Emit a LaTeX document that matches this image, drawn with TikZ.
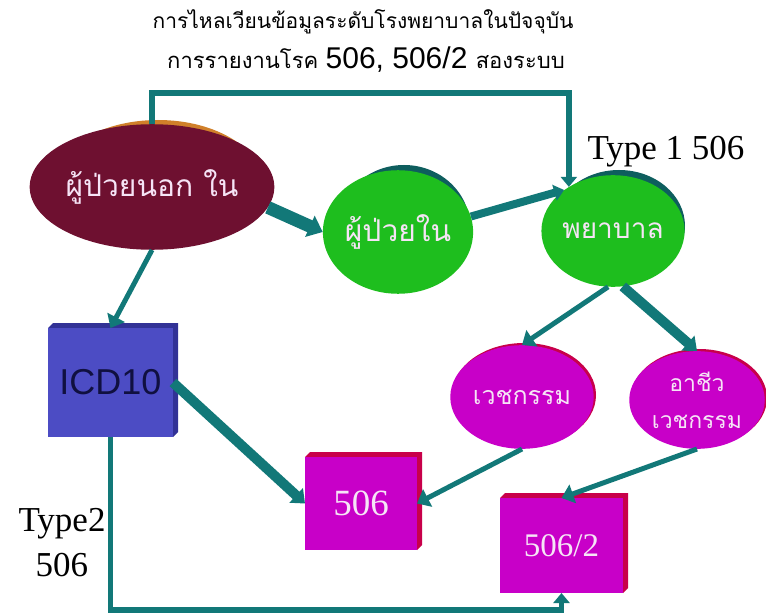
\documentclass[tikz,border=0pt]{standalone}
\usepackage{fontspec}
\setmainfont{Liberation Serif}
\newfontfamily\thai[Script=Thai]{Loma}
\newfontfamily\arial{Liberation Sans}
\usetikzlibrary{shapes.geometric,arrows.meta}
\definecolor{flowc}{RGB}{18,120,120}
\definecolor{maroonf}{RGB}{110,16,48}
\definecolor{orangesh}{RGB}{208,128,42}
\definecolor{greenf}{RGB}{30,190,30}
\definecolor{greensh}{RGB}{14,94,94}
\definecolor{magf}{RGB}{200,0,200}
\definecolor{magsh}{RGB}{200,0,74}
\definecolor{bluef}{RGB}{76,76,196}
\definecolor{bluesh}{RGB}{50,50,150}
\definecolor{textpink}{RGB}{246,228,246}
\begin{document}
\begin{tikzpicture}[x=1bp,y=-1bp,
  ell/.style={ellipse, inner sep=0pt},
  thaitxt/.style={font=\thai\fontsize{#1}{#1}\selectfont, text=textpink},
  boxnode/.style={rectangle, inner sep=0pt},
  flow/.style={draw=flowc, line width=#1},
  tip/.style={-{Triangle[length=#1, width=1.6*#1]}}]
\useasboundingbox (0,0) rectangle (766,614);
% title
\node (t1) at (363,22) {\thai\fontsize{21bp}{21bp}\selectfont การไหลเวียนข้อมูลระดับโรงพยาบาลในปัจจุบัน};
\node (t2) at (366,60) {\thai\fontsize{22bp}{22bp}\selectfont การรายงานโรค \arial\fontsize{30bp}{30bp}\selectfont 506, 506/2 \thai\fontsize{22bp}{22bp}\selectfont สองระบบ};
% shadows
\fill[orangesh] (158,183) ellipse [x radius=104, y radius=63];
\fill[greensh] (404,227) ellipse [x radius=66, y radius=62];
\fill[greensh] (619,226) ellipse [x radius=66, y radius=56];
\fill[magsh] (524,395) ellipse [x radius=72, y radius=52];
\fill[magsh] (699,398) ellipse [x radius=68, y radius=49];
% ellipses
\node[ell, fill=maroonf, minimum width=208, minimum height=126, thaitxt=30bp] (out) at (152,187) {ผู้ป่วยนอก ใน};
\node[ell, fill=greenf, minimum width=132, minimum height=124, thaitxt=30bp] (inp) at (398,232) {ผู้ป่วยใน};
\node[ell, fill=greenf, minimum width=132, minimum height=112, thaitxt=28bp] (nurse) at (613,231) {พยาบาล};
\node[ell, fill=magf, minimum width=144, minimum height=104, thaitxt=25bp] (med) at (522,397) {เวชกรรม};
\node[ell, fill=magf, minimum width=136, minimum height=98, thaitxt=23bp, align=center] (occ) at (697,400) {อาชีว\\[14bp]เวชกรรม};
% boxes with depth
\fill[bluesh] (48,328) -- (53,323) -- (178,323) -- (178,432) -- (173,437) -- (173,328) -- cycle;
\node[boxnode, fill=bluef, minimum width=125, minimum height=109, font=\arial\fontsize{36bp}{36bp}\selectfont, text={rgb,255:red,16;green,16;blue,64}] (icd) at (110.5,382.5) {ICD10};
\fill[magsh] (305,457) -- (310,452) -- (422,452) -- (422,545) -- (417,550) -- (417,457) -- cycle;
\node[boxnode, fill=magf, minimum width=112, minimum height=93, font=\fontsize{37bp}{37bp}\selectfont, text=textpink] (r506) at (361,503.5) {506};
\fill[magsh] (500,498) -- (505,493) -- (628,493) -- (628,588) -- (623,593) -- (623,498) -- cycle;
\node[boxnode, fill=magf, minimum width=123, minimum height=95, font=\fontsize{33bp}{33bp}\selectfont, text=textpink] (r5062) at (561.5,545.5) {506/2};
% labels
\node[font=\fontsize{35bp}{35bp}\selectfont] (type1) at (666,152) {Type 1 506};
\node[font=\fontsize{35bp}{45bp}\selectfont, align=center] (type2) at (62,543) {Type2\\506};
% connectors
\draw[flow=6, tip=10bp] (out.north) -- ++(0,-31) -| (nurse.135);
\draw[flow=13, tip=14bp] (out.-10) -- (inp.west);
\draw[flow=8, tip=10bp] (inp.12) -- (nurse.140);
\draw[flow=5, tip=12bp] (out.south) -- (icd.north);
\draw[flow=10, tip=12bp] (icd.east) -- (r506.west);
\draw[flow=5, tip=12bp] (nurse.-95) -- (med.north);
\draw[flow=10, tip=12bp] (nurse.-80) -- (occ.north);
\draw[flow=5, tip=12bp] (med.south) -- (r506.east);
\draw[flow=5, tip=12bp] (occ.south) -- (r5062.north);
\draw[flow=6, tip=10bp] (icd.south) -- ++(0,173) -| (r5062.south);
\end{tikzpicture}
\end{document}
